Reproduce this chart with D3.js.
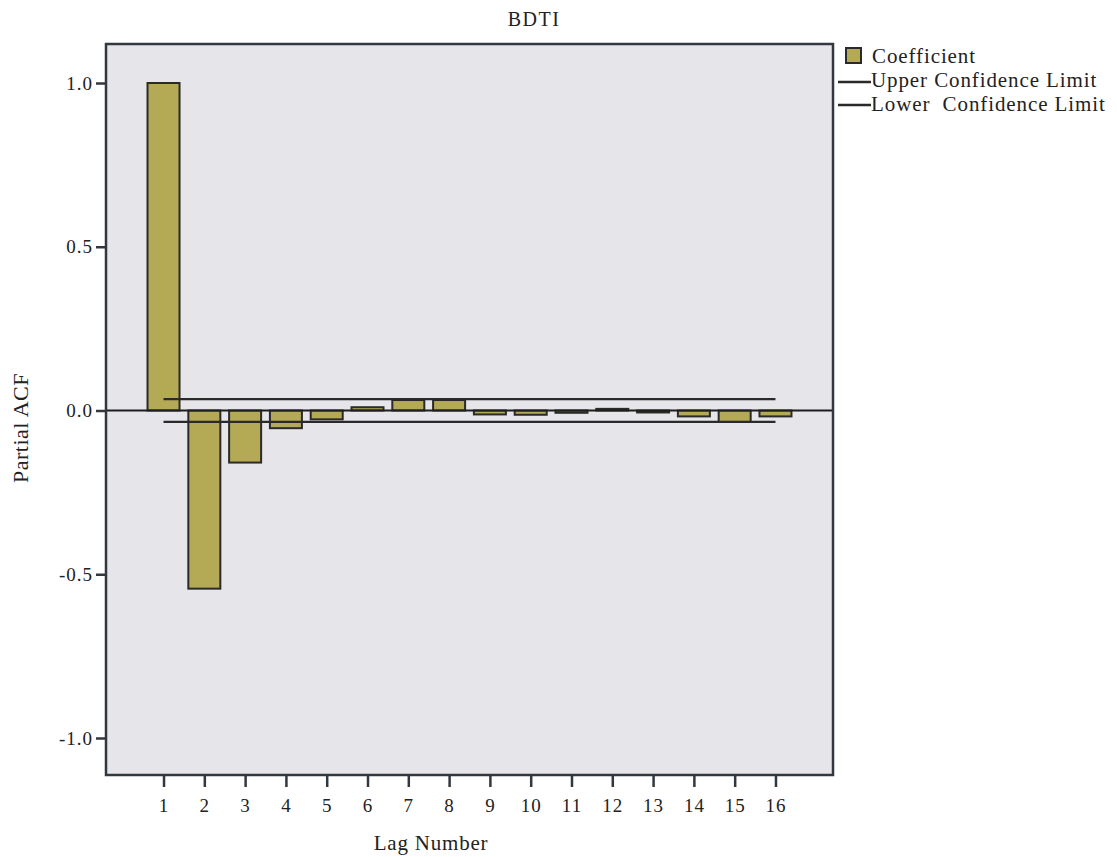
<!DOCTYPE html>
<html><head><meta charset="utf-8">
<script src="https://cdn.jsdelivr.net/npm/d3@7"></script>
<style>
html,body{margin:0;padding:0;background:#fff;}
svg text{font-family:"Liberation Serif","Times New Roman",serif;fill:#222;}
</style></head>
<body><svg id="c" width="1117" height="857"></svg>
<script>
const lags = [1,2,3,4,5,6,7,8,9,10,11,12,13,14,15,16];
const coefficients = [1.0,-0.544,-0.159,-0.054,-0.027,0.010,0.032,0.032,-0.012,-0.013,-0.007,0.005,-0.006,-0.018,-0.035,-0.018];
const upperLimit = [0.035,0.035,0.035,0.035,0.035,0.035,0.035,0.035,0.035,0.035,0.035,0.035,0.035,0.035,0.035,0.035];
const lowerLimit = [-0.035,-0.035,-0.035,-0.035,-0.035,-0.035,-0.035,-0.035,-0.035,-0.035,-0.035,-0.035,-0.035,-0.035,-0.035,-0.035];
const yTicks = [-1.0,-0.5,0.0,0.5,1.0];
const legendLabels = ["Coefficient","Upper Confidence Limit","Lower  Confidence Limit"];

const svg = d3.select("#c");
const L=106, R=833, T=44, B=775;
const x = d3.scaleLinear().domain([-0.41,17.41]).range([L,R]);
const y = d3.scaleLinear().domain([-1,1]).range([738,83]);
const barW = 32;

svg.append("rect").attr("x",L).attr("y",T).attr("width",R-L).attr("height",B-T)
  .attr("fill","#e5e5ea");

// bars
svg.append("g").selectAll("rect").data(lags).join("rect")
  .attr("x",(d)=>x(d)-barW/2)
  .attr("y",(d,i)=>Math.min(y(coefficients[i]),y(0)))
  .attr("width",barW)
  .attr("height",(d,i)=>Math.max(Math.abs(y(coefficients[i])-y(0)),0.5))
  .attr("fill","#b4a955").attr("stroke","#2a2a2a").attr("stroke-width",2);

// zero line
svg.append("line").attr("x1",L).attr("x2",R).attr("y1",y(0)).attr("y2",y(0))
  .attr("stroke","#1e1e1e").attr("stroke-width",2.2);

// confidence limits
const line = d3.line().x(d=>x(d[0])).y(d=>y(d[1]));
svg.append("path").datum(lags.map((l,i)=>[l,upperLimit[i]])).attr("d",line)
  .attr("fill","none").attr("stroke","#2a2a2a").attr("stroke-width",2.2);
svg.append("path").datum(lags.map((l,i)=>[l,lowerLimit[i]])).attr("d",line)
  .attr("fill","none").attr("stroke","#2a2a2a").attr("stroke-width",2.2);

// frame
svg.append("rect").attr("x",L).attr("y",T).attr("width",R-L).attr("height",B-T)
  .attr("fill","none").attr("stroke","#333840").attr("stroke-width",2.5);

// y axis
const yAxis = svg.append("g").attr("transform",`translate(${L},0)`)
  .call(d3.axisLeft(y).tickValues(yTicks).tickFormat(d=>d.toFixed(1)).tickSize(10).tickPadding(3));
yAxis.select(".domain").remove();
yAxis.selectAll(".tick line").attr("stroke","#333840").attr("stroke-width",2.5);
yAxis.selectAll("text").attr("font-size",19).attr("letter-spacing",1).style("font-family","'Liberation Serif',serif").attr("fill","#222");

// x axis
const xAxis = svg.append("g").attr("transform",`translate(0,${B})`)
  .call(d3.axisBottom(x).tickValues(lags).tickFormat(d3.format("d")).tickSize(12).tickPadding(12));
xAxis.select(".domain").remove();
xAxis.selectAll(".tick line").attr("stroke","#333840").attr("stroke-width",2.5);
xAxis.selectAll("text").attr("font-size",19).attr("letter-spacing",1).style("font-family","'Liberation Serif',serif").attr("fill","#222");

// titles
svg.append("text").attr("x",534).attr("y",26).attr("text-anchor","middle").attr("font-size",20).attr("letter-spacing",1.5).text("BDTI");
svg.append("text").attr("x",431).attr("y",850).attr("text-anchor","middle").attr("font-size",21).attr("letter-spacing",0.8).text("Lag Number");
svg.append("text").attr("transform","translate(28,428) rotate(-90)").attr("text-anchor","middle").attr("font-size",22).attr("letter-spacing",0.5).text("Partial ACF");

// legend
const lg = svg.append("g");
lg.append("rect").attr("x",846).attr("y",48).attr("width",15).attr("height",15)
  .attr("fill","#b4a955").attr("stroke","#2a2a2a").attr("stroke-width",2);
lg.append("line").attr("x1",838).attr("x2",871).attr("y1",82).attr("y2",82).attr("stroke","#2a2a2a").attr("stroke-width",2.5);
lg.append("line").attr("x1",838).attr("x2",871).attr("y1",105).attr("y2",105).attr("stroke","#2a2a2a").attr("stroke-width",2.5);
lg.selectAll("text").data(legendLabels).join("text")
  .attr("x",(d,i)=>i===0?872:871).attr("y",(d,i)=>[63,87,111][i])
  .attr("font-size",21).attr("letter-spacing",0.9).attr("xml:space","preserve")
  .style("white-space","pre").text(d=>d);
</script></body></html>
